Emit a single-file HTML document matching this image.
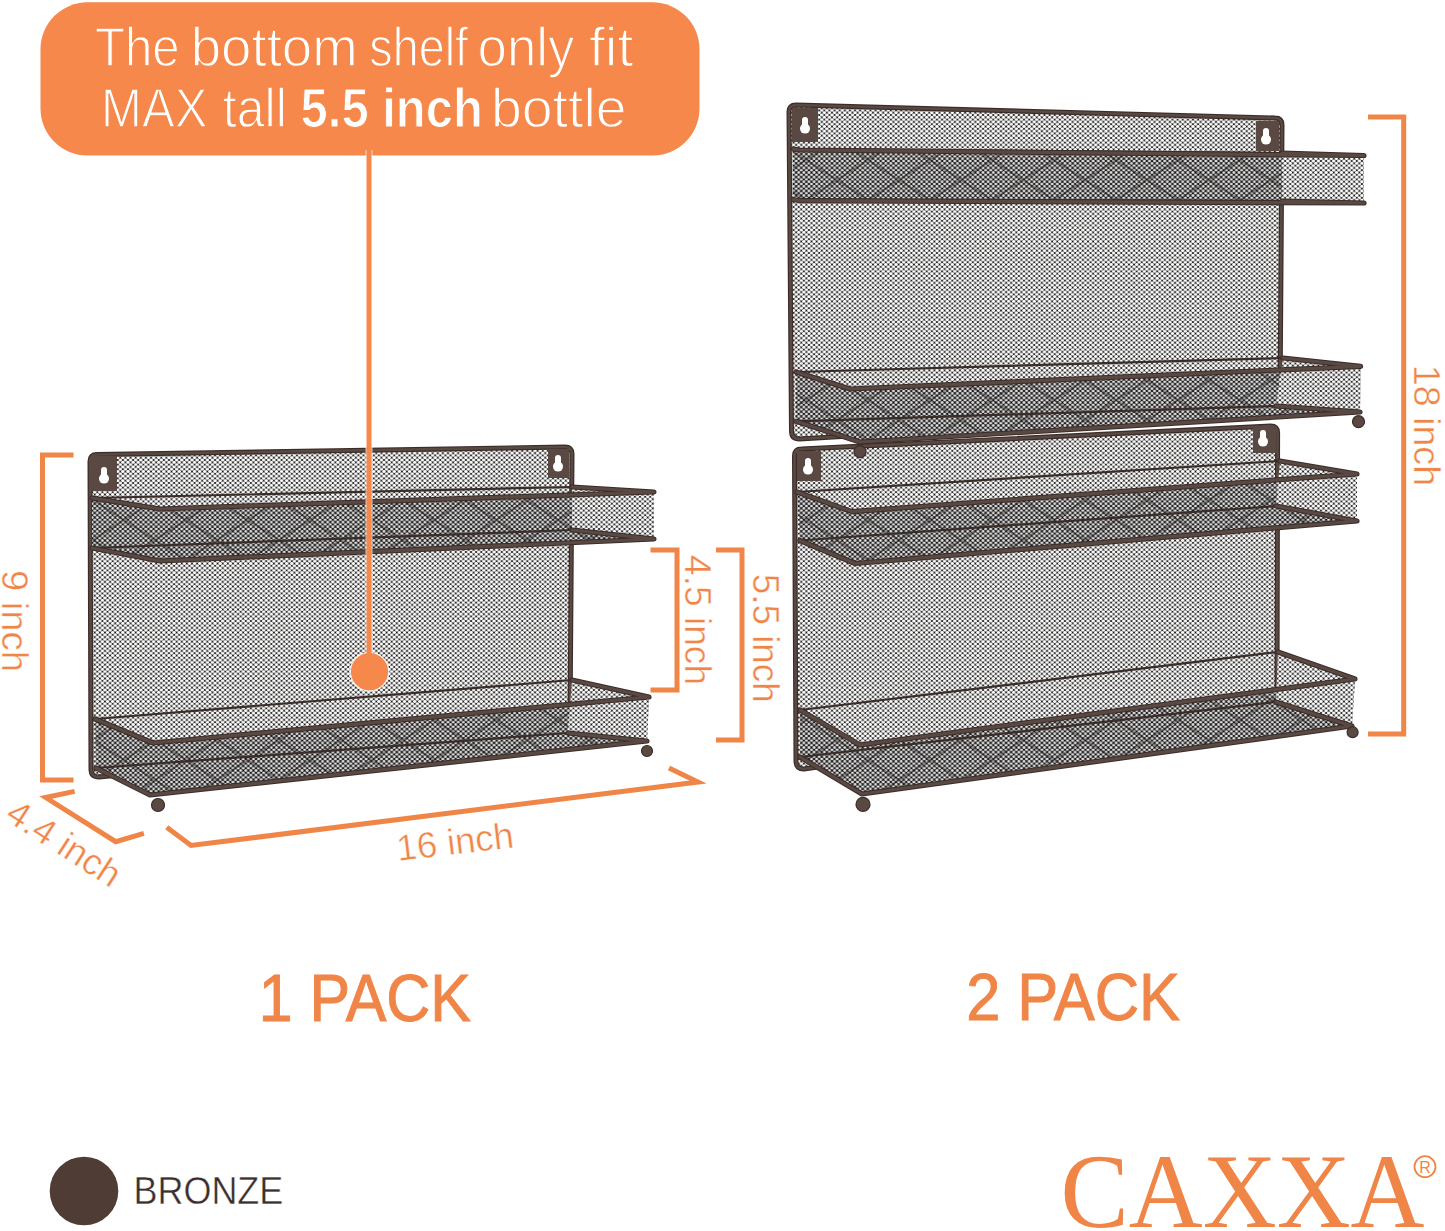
<!DOCTYPE html>
<html><head><meta charset="utf-8"><style>
html,body{margin:0;padding:0;background:#fff;}
body{width:1445px;height:1231px;overflow:hidden;position:relative;}
svg{position:absolute;left:0;top:0;}
</style></head><body>
<svg width="1445" height="1231" viewBox="0 0 1445 1231">
<defs>
<pattern id="mesh" patternUnits="userSpaceOnUse" width="5.12" height="4.6"><path d="M0,0 L5.12,4.6 M5.12,0 L0,4.6" stroke="#1c1a19" stroke-width="0.55" fill="none"/><circle cx="0" cy="0" r="0.95" fill="#1c1a19"/><circle cx="5.12" cy="0" r="0.95" fill="#1c1a19"/><circle cx="0" cy="4.6" r="0.95" fill="#1c1a19"/><circle cx="5.12" cy="4.6" r="0.95" fill="#1c1a19"/><circle cx="2.56" cy="2.3" r="0.95" fill="#1c1a19"/></pattern>
<pattern id="mesh2" patternUnits="userSpaceOnUse" width="5.12" height="4.6"><rect width="5.12" height="4.6" fill="#fff"/><path d="M0,0 L5.12,4.6 M5.12,0 L0,4.6" stroke="#1c1a19" stroke-width="0.8" fill="none"/><circle cx="0" cy="0" r="1.15" fill="#1c1a19"/><circle cx="5.12" cy="0" r="1.15" fill="#1c1a19"/><circle cx="0" cy="4.6" r="1.15" fill="#1c1a19"/><circle cx="5.12" cy="4.6" r="1.15" fill="#1c1a19"/><circle cx="2.56" cy="2.3" r="1.15" fill="#1c1a19"/></pattern>
<pattern id="diam" patternUnits="userSpaceOnUse" width="62" height="40">
<path d="M0,0 L62,40 M62,0 L0,40" stroke="#1e1816" stroke-width="2.2" stroke-opacity="0.38" fill="none"/>
</pattern>
</defs>
<polygon points="90,454.5 572,447 570,733 91,777" fill="url(#mesh)" />
<path d="M99,777 Q91,777 91,769 L90,461.5 Q90,454.5 97,454.5 L565,447 Q572,447 572,454 L570,725 Q570,733 562,733 Z" fill="none" stroke="#3a2d29" stroke-width="5"/>
<path d="M99,777 Q91,777 91,769 L90,461.5 Q90,454.5 97,454.5 L565,447 Q572,447 572,454 L570,725 Q570,733 562,733 Z" fill="none" stroke="#5a4943" stroke-width="2.6"/>
<rect x="91" y="456" width="26" height="35" fill="#5a4943"/><g transform="translate(104,475) scale(1.0)"><circle cx="0" cy="3.6" r="5" fill="#fff"/><circle cx="0" cy="-5" r="3" fill="#fff"/><rect x="-3" y="-5" width="6" height="8" fill="#fff"/></g>
<rect x="548" y="449" width="21" height="29" fill="#5a4943"/><g transform="translate(558,463) scale(1.0)"><circle cx="0" cy="3.6" r="5" fill="#fff"/><circle cx="0" cy="-5" r="3" fill="#fff"/><rect x="-3" y="-5" width="6" height="8" fill="#fff"/></g>
<polygon points="92,548 572,530 654,539 160,561" fill="url(#mesh2)" />
<polygon points="92,498 160,509 654,492 654,539 160,561 92,548" fill="url(#mesh2)" />
<polygon points="92,498 160,509 654,492 654,539 160,561 92,548" fill="#000" fill-opacity="0.12"/>
<polygon points="92,498 160,509 654,492 654,539 160,561 92,548" fill="url(#diam)" />
<polygon points="572,487 654,492 654,539 572,530" fill="#fff" />
<polygon points="572,487 654,492 654,539 572,530" fill="url(#mesh)" />
<polyline points="92,498 572,487" fill="none" stroke="#3a2d29" stroke-width="2.2" stroke-linejoin="round" stroke-linecap="round" />
<polyline points="92,548 572,530" fill="none" stroke="#3a2d29" stroke-width="2.2" stroke-linejoin="round" stroke-linecap="round" />
<polyline points="92,498 160,509 654,492 572,487" fill="none" stroke="#3a2d29" stroke-width="5.2" stroke-linejoin="round" stroke-linecap="round" /><polyline points="92,498 160,509 654,492 572,487" fill="none" stroke="#5a4943" stroke-width="3.2" stroke-linejoin="round" stroke-linecap="round" />
<polyline points="92,548 160,561 654,539 572,530" fill="none" stroke="#3a2d29" stroke-width="5.2" stroke-linejoin="round" stroke-linecap="round" /><polyline points="92,548 160,561 654,539 572,530" fill="none" stroke="#5a4943" stroke-width="3.2" stroke-linejoin="round" stroke-linecap="round" />
<polygon points="96,768 568,733 647,741 150,795" fill="url(#mesh2)" />
<polygon points="95,719 153,743 649,697 647,741 150,795 96,768" fill="url(#mesh2)" />
<polygon points="95,719 153,743 649,697 647,741 150,795 96,768" fill="#000" fill-opacity="0.12"/>
<polygon points="95,719 153,743 649,697 647,741 150,795 96,768" fill="url(#diam)" />
<polygon points="572,680 649,697 647,741 568,733" fill="#fff" />
<polygon points="572,680 649,697 647,741 568,733" fill="url(#mesh)" />
<polyline points="95,719 572,680" fill="none" stroke="#3a2d29" stroke-width="2.2" stroke-linejoin="round" stroke-linecap="round" />
<polyline points="96,768 568,733" fill="none" stroke="#3a2d29" stroke-width="2.2" stroke-linejoin="round" stroke-linecap="round" />
<polyline points="95,719 153,743 649,697 572,680" fill="none" stroke="#3a2d29" stroke-width="5.2" stroke-linejoin="round" stroke-linecap="round" /><polyline points="95,719 153,743 649,697 572,680" fill="none" stroke="#5a4943" stroke-width="3.2" stroke-linejoin="round" stroke-linecap="round" />
<polyline points="96,768 150,795 647,741 568,733" fill="none" stroke="#3a2d29" stroke-width="5.2" stroke-linejoin="round" stroke-linecap="round" /><polyline points="96,768 150,795 647,741 568,733" fill="none" stroke="#5a4943" stroke-width="3.2" stroke-linejoin="round" stroke-linecap="round" />
<circle cx="158" cy="805" r="6.5" fill="#5a4943" stroke="#3a2d29" stroke-width="1.2"/>
<circle cx="647" cy="751" r="5.5" fill="#5a4943" stroke="#3a2d29" stroke-width="1.2"/>
<polygon points="789,105 1282,118 1280,411 791.5,439" fill="url(#mesh)" />
<path d="M799.5,439 Q791.5,439 791.5,431 L789,112 Q789,105 796,105 L1275,118 Q1282,118 1282,125 L1280,403 Q1280,411 1272,411 Z" fill="none" stroke="#3a2d29" stroke-width="5"/>
<path d="M799.5,439 Q791.5,439 791.5,431 L789,112 Q789,105 796,105 L1275,118 Q1282,118 1282,125 L1280,403 Q1280,411 1272,411 Z" fill="none" stroke="#5a4943" stroke-width="2.6"/>
<rect x="792" y="108" width="26" height="34" fill="#5a4943"/><g transform="translate(805,125) scale(1.0)"><circle cx="0" cy="3.6" r="5" fill="#fff"/><circle cx="0" cy="-5" r="3" fill="#fff"/><rect x="-3" y="-5" width="6" height="8" fill="#fff"/></g>
<rect x="1256" y="121" width="23" height="30" fill="#5a4943"/><g transform="translate(1266,136) scale(1.0)"><circle cx="0" cy="3.6" r="5" fill="#fff"/><circle cx="0" cy="-5" r="3" fill="#fff"/><rect x="-3" y="-5" width="6" height="8" fill="#fff"/></g>
<polygon points="793,199.5 1282,201 1364,203 800,200.7" fill="url(#mesh2)" />
<polygon points="793,149 800,150 1364,155.5 1364,203 800,200.7 793,199.5" fill="url(#mesh2)" />
<polygon points="793,149 800,150 1364,155.5 1364,203 800,200.7 793,199.5" fill="#000" fill-opacity="0.12"/>
<polygon points="793,149 800,150 1364,155.5 1364,203 800,200.7 793,199.5" fill="url(#diam)" />
<polygon points="1282,153 1364,155.5 1364,203 1282,201" fill="#fff" />
<polygon points="1282,153 1364,155.5 1364,203 1282,201" fill="url(#mesh)" />
<polyline points="793,149 1282,153" fill="none" stroke="#3a2d29" stroke-width="2.2" stroke-linejoin="round" stroke-linecap="round" />
<polyline points="793,199.5 1282,201" fill="none" stroke="#3a2d29" stroke-width="2.2" stroke-linejoin="round" stroke-linecap="round" />
<polyline points="793,149 800,150 1364,155.5 1282,153" fill="none" stroke="#3a2d29" stroke-width="5.2" stroke-linejoin="round" stroke-linecap="round" /><polyline points="793,149 800,150 1364,155.5 1282,153" fill="none" stroke="#5a4943" stroke-width="3.2" stroke-linejoin="round" stroke-linecap="round" />
<polyline points="793,199.5 800,200.7 1364,203 1282,201" fill="none" stroke="#3a2d29" stroke-width="5.2" stroke-linejoin="round" stroke-linecap="round" /><polyline points="793,199.5 800,200.7 1364,203 1282,201" fill="none" stroke="#5a4943" stroke-width="3.2" stroke-linejoin="round" stroke-linecap="round" />
<polygon points="794.5,449 1277.6,426 1277,702 796,769" fill="url(#mesh)" />
<path d="M804,769 Q796,769 796,761 L794.5,456 Q794.5,449 801.5,449 L1270.6,426 Q1277.6,426 1277.6,433 L1277,694 Q1277,702 1269,702 Z" fill="none" stroke="#3a2d29" stroke-width="5"/>
<path d="M804,769 Q796,769 796,761 L794.5,456 Q794.5,449 801.5,449 L1270.6,426 Q1277.6,426 1277.6,433 L1277,694 Q1277,702 1269,702 Z" fill="none" stroke="#5a4943" stroke-width="2.6"/>
<rect x="797" y="451" width="24" height="30" fill="#5a4943"/><g transform="translate(808,466) scale(1.0)"><circle cx="0" cy="3.6" r="5" fill="#fff"/><circle cx="0" cy="-5" r="3" fill="#fff"/><rect x="-3" y="-5" width="6" height="8" fill="#fff"/></g>
<rect x="1253" y="427" width="23" height="26" fill="#5a4943"/><g transform="translate(1263,438) scale(1.0)"><circle cx="0" cy="3.6" r="5" fill="#fff"/><circle cx="0" cy="-5" r="3" fill="#fff"/><rect x="-3" y="-5" width="6" height="8" fill="#fff"/></g>
<polygon points="796,421.3 1276,406 1360,412 860,442" fill="url(#mesh2)" />
<polygon points="796,372 850,389 1360.6,366.3 1360,412 860,442 796,421.3" fill="url(#mesh2)" />
<polygon points="796,372 850,389 1360.6,366.3 1360,412 860,442 796,421.3" fill="#000" fill-opacity="0.12"/>
<polygon points="796,372 850,389 1360.6,366.3 1360,412 860,442 796,421.3" fill="url(#diam)" />
<polygon points="1283,358 1360.6,366.3 1360,412 1276,406" fill="#fff" />
<polygon points="1283,358 1360.6,366.3 1360,412 1276,406" fill="url(#mesh)" />
<polyline points="796,372 1283,358" fill="none" stroke="#3a2d29" stroke-width="2.2" stroke-linejoin="round" stroke-linecap="round" />
<polyline points="796,421.3 1276,406" fill="none" stroke="#3a2d29" stroke-width="2.2" stroke-linejoin="round" stroke-linecap="round" />
<polyline points="796,372 850,389 1360.6,366.3 1283,358" fill="none" stroke="#3a2d29" stroke-width="5.2" stroke-linejoin="round" stroke-linecap="round" /><polyline points="796,372 850,389 1360.6,366.3 1283,358" fill="none" stroke="#5a4943" stroke-width="3.2" stroke-linejoin="round" stroke-linecap="round" />
<polyline points="796,421.3 860,442 1360,412 1276,406" fill="none" stroke="#3a2d29" stroke-width="5.2" stroke-linejoin="round" stroke-linecap="round" /><polyline points="796,421.3 860,442 1360,412 1276,406" fill="none" stroke="#5a4943" stroke-width="3.2" stroke-linejoin="round" stroke-linecap="round" />
<circle cx="860" cy="451.6" r="6" fill="#5a4943" stroke="#3a2d29" stroke-width="1.2"/>
<circle cx="1358.5" cy="421.7" r="6" fill="#5a4943" stroke="#3a2d29" stroke-width="1.2"/>
<polygon points="800,540.5 1276,506 1357,521 855,563.5" fill="url(#mesh2)" />
<polygon points="797,492 852,511.6 1357,474 1357,521 855,563.5 800,540.5" fill="url(#mesh2)" />
<polygon points="797,492 852,511.6 1357,474 1357,521 855,563.5 800,540.5" fill="#000" fill-opacity="0.12"/>
<polygon points="797,492 852,511.6 1357,474 1357,521 855,563.5 800,540.5" fill="url(#diam)" />
<polygon points="1280,461 1357,474 1357,521 1276,506" fill="#fff" />
<polygon points="1280,461 1357,474 1357,521 1276,506" fill="url(#mesh)" />
<polyline points="797,492 1280,461" fill="none" stroke="#3a2d29" stroke-width="2.2" stroke-linejoin="round" stroke-linecap="round" />
<polyline points="800,540.5 1276,506" fill="none" stroke="#3a2d29" stroke-width="2.2" stroke-linejoin="round" stroke-linecap="round" />
<polyline points="797,492 852,511.6 1357,474 1280,461" fill="none" stroke="#3a2d29" stroke-width="5.2" stroke-linejoin="round" stroke-linecap="round" /><polyline points="797,492 852,511.6 1357,474 1280,461" fill="none" stroke="#5a4943" stroke-width="3.2" stroke-linejoin="round" stroke-linecap="round" />
<polyline points="800,540.5 855,563.5 1357,521 1276,506" fill="none" stroke="#3a2d29" stroke-width="5.2" stroke-linejoin="round" stroke-linecap="round" /><polyline points="800,540.5 855,563.5 1357,521 1276,506" fill="none" stroke="#5a4943" stroke-width="3.2" stroke-linejoin="round" stroke-linecap="round" />
<polygon points="800,757 1276,702 1352,726 862,794" fill="url(#mesh2)" />
<polygon points="800,710 860,745 1355,679 1352,726 862,794 800,757" fill="url(#mesh2)" />
<polygon points="800,710 860,745 1355,679 1352,726 862,794 800,757" fill="#000" fill-opacity="0.12"/>
<polygon points="800,710 860,745 1355,679 1352,726 862,794 800,757" fill="url(#diam)" />
<polygon points="1278,652 1355,679 1352,726 1276,702" fill="#fff" />
<polygon points="1278,652 1355,679 1352,726 1276,702" fill="url(#mesh)" />
<polyline points="800,710 1278,652" fill="none" stroke="#3a2d29" stroke-width="2.2" stroke-linejoin="round" stroke-linecap="round" />
<polyline points="800,757 1276,702" fill="none" stroke="#3a2d29" stroke-width="2.2" stroke-linejoin="round" stroke-linecap="round" />
<polyline points="800,710 860,745 1355,679 1278,652" fill="none" stroke="#3a2d29" stroke-width="5.2" stroke-linejoin="round" stroke-linecap="round" /><polyline points="800,710 860,745 1355,679 1278,652" fill="none" stroke="#5a4943" stroke-width="3.2" stroke-linejoin="round" stroke-linecap="round" />
<polyline points="800,757 862,794 1352,726 1276,702" fill="none" stroke="#3a2d29" stroke-width="5.2" stroke-linejoin="round" stroke-linecap="round" /><polyline points="800,757 862,794 1352,726 1276,702" fill="none" stroke="#5a4943" stroke-width="3.2" stroke-linejoin="round" stroke-linecap="round" />
<circle cx="863" cy="804.4" r="7" fill="#5a4943" stroke="#3a2d29" stroke-width="1.2"/>
<circle cx="1352.6" cy="732.2" r="5.5" fill="#5a4943" stroke="#3a2d29" stroke-width="1.2"/>
<rect x="40.5" y="2.3" width="659" height="153.2" rx="47" fill="#f5884a"/>
<line x1="369" y1="150" x2="369" y2="672" stroke="#fff" stroke-width="7" stroke-opacity="0.7"/>
<circle cx="369.5" cy="671.7" r="20" fill="#fff" fill-opacity="0.8"/>
<line x1="369" y1="150" x2="369" y2="672" stroke="#f5884a" stroke-width="5"/>
<circle cx="369.5" cy="671.7" r="18.6" fill="#f5884a"/>
<polyline points="73.5,455 42.5,455 42.5,780 73.5,780" fill="none" stroke="#f08548" stroke-width="5" stroke-linejoin="miter"/>
<polyline points="74.6,791.4 45.7,797.5 115.7,841.7 143.9,833.3" fill="none" stroke="#f08548" stroke-width="5" stroke-linejoin="miter"/>
<polyline points="166.7,827.2 191,845.5 698,782 669,768" fill="none" stroke="#f08548" stroke-width="5" stroke-linejoin="miter"/>
<polyline points="650.5,550 677,550 677,690 650.5,690" fill="none" stroke="#f08548" stroke-width="5" stroke-linejoin="miter"/>
<polyline points="716,550 742,550 742,740 716,740" fill="none" stroke="#f08548" stroke-width="5" stroke-linejoin="miter"/>
<polyline points="1368,117 1403.7,117 1403.7,734 1368,734" fill="none" stroke="#f08548" stroke-width="5" stroke-linejoin="miter"/>
<text x="94.91" y="66.2" font-family="Liberation Sans, sans-serif" font-size="55" font-weight="normal" fill="#fff" stroke="#f5884a" stroke-width="1.3" textLength="84.78" lengthAdjust="spacingAndGlyphs">The</text>
<text x="190.73" y="66.2" font-family="Liberation Sans, sans-serif" font-size="55" font-weight="normal" fill="#fff" stroke="#f5884a" stroke-width="1.3" textLength="167.0" lengthAdjust="spacingAndGlyphs">bottom</text>
<text x="369.3" y="66.2" font-family="Liberation Sans, sans-serif" font-size="55" font-weight="normal" fill="#fff" stroke="#f5884a" stroke-width="1.3" textLength="98.76" lengthAdjust="spacingAndGlyphs">shelf</text>
<text x="477.58" y="66.2" font-family="Liberation Sans, sans-serif" font-size="55" font-weight="normal" fill="#fff" stroke="#f5884a" stroke-width="1.3" textLength="96.83" lengthAdjust="spacingAndGlyphs">only</text>
<text x="588.96" y="66.2" font-family="Liberation Sans, sans-serif" font-size="55" font-weight="normal" fill="#fff" stroke="#f5884a" stroke-width="1.3" textLength="44.45" lengthAdjust="spacingAndGlyphs">fit</text>
<text x="101.04" y="127.1" font-family="Liberation Sans, sans-serif" font-size="55" font-weight="normal" fill="#fff" stroke="#f5884a" stroke-width="1.3" textLength="106.32" lengthAdjust="spacingAndGlyphs">MAX</text>
<text x="222.79" y="127.1" font-family="Liberation Sans, sans-serif" font-size="55" font-weight="normal" fill="#fff" stroke="#f5884a" stroke-width="1.3" textLength="64.03" lengthAdjust="spacingAndGlyphs">tall</text>
<text x="300.62" y="127.1" font-family="Liberation Sans, sans-serif" font-size="55" font-weight="bold" fill="#fff" stroke="#f5884a" stroke-width="1.0" textLength="182.27" lengthAdjust="spacingAndGlyphs">5.5 inch</text>
<text x="490.97" y="127.1" font-family="Liberation Sans, sans-serif" font-size="55" font-weight="normal" fill="#fff" stroke="#f5884a" stroke-width="1.3" textLength="135.6" lengthAdjust="spacingAndGlyphs">bottle</text>
<text transform="translate(2.4,569.9) rotate(90)" font-family="Liberation Sans, sans-serif" font-size="36.5" fill="#f08548" stroke="#fff" stroke-width="0.45" textLength="102.12" lengthAdjust="spacingAndGlyphs">9 inch</text>
<text transform="translate(685.3,554.98) rotate(90)" font-family="Liberation Sans, sans-serif" font-size="36.5" fill="#f08548" stroke="#fff" stroke-width="0.45" textLength="130.09" lengthAdjust="spacingAndGlyphs">4.5 inch</text>
<text transform="translate(752.6,573.78) rotate(90)" font-family="Liberation Sans, sans-serif" font-size="36.5" fill="#f08548" stroke="#fff" stroke-width="0.45" textLength="128.87" lengthAdjust="spacingAndGlyphs">5.5 inch</text>
<text transform="translate(1414,364.91) rotate(90)" font-family="Liberation Sans, sans-serif" font-size="36.5" fill="#f08548" stroke="#fff" stroke-width="0.45" textLength="121.14" lengthAdjust="spacingAndGlyphs">18 inch</text>
<text transform="translate(3.8,819.1) rotate(32.9)" font-family="Liberation Sans, sans-serif" font-size="36.5" fill="#f08548" stroke="#fff" stroke-width="0.45">4.4 inch</text>
<text transform="translate(398,861) rotate(-6.7)" font-family="Liberation Sans, sans-serif" font-size="36.5" fill="#f08548" stroke="#fff" stroke-width="0.45">16 inch</text>
<text x="258.82" y="1021" font-family="Liberation Sans, sans-serif" font-size="66.5" fill="#f08548" stroke="#f08548" stroke-width="1.0" textLength="212.07" lengthAdjust="spacingAndGlyphs">1 PACK</text>
<text x="966.13" y="1020.4" font-family="Liberation Sans, sans-serif" font-size="66.5" fill="#f08548" stroke="#f08548" stroke-width="1.0" textLength="213.87" lengthAdjust="spacingAndGlyphs">2 PACK</text>
<circle cx="84" cy="1191" r="34.3" fill="#4e3c35"/>
<text x="133.51" y="1204.3" font-family="Liberation Sans, sans-serif" font-size="38.7" fill="#3a2f2c" stroke="#fff" stroke-width="0.45" textLength="149.82" lengthAdjust="spacingAndGlyphs">BRONZE</text>
<text x="1060.5" y="1226.9" font-family="Liberation Serif, serif" font-size="105" fill="#f08548" textLength="364.05" lengthAdjust="spacingAndGlyphs">CAXXA</text>
<circle cx="1425" cy="1166.7" r="10.5" fill="none" stroke="#f08548" stroke-width="1.8"/>
<text x="1425" y="1173" text-anchor="middle" font-family="Liberation Sans, sans-serif" font-size="16" fill="#f08548">R</text>
</svg>
</body></html>
